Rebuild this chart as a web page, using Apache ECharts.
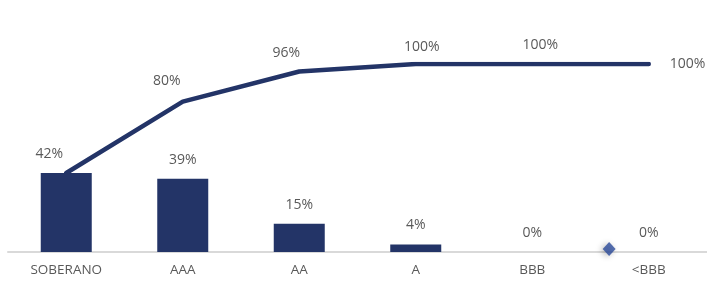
<!DOCTYPE html>
<html>
<head>
<meta charset="utf-8">
<script src="https://cdn.jsdelivr.net/npm/echarts@6/dist/echarts.min.js"></script>
<style>
  body { margin: 0; background: #fff; }
  #chart { width: 707px; height: 285px; }
</style>
</head>
<body>
<div id="chart"></div>
<script>
// categorias de rating
const categories = ['SOBERANO', 'AAA', 'AA', 'A', 'BBB', '<BBB'];
// participacion por rating (%)
const shares = [42, 39, 15, 4, 0, 0];
// acumulado (%)
const cumulative = [42, 80, 96, 100, 100, 100];
// marcador suelto cerca del eje (posicion en categorias, valor)
const strayMarker = [[4.66, 1.6]];

// desplazamientos de etiquetas, imitando el grafico original
const barLabelShift = [[-17, 0], [0, 0], [0, 0], [0, 0], [0, 0], [0, 0]];
const lineLabelShift = [null, [-16, -5], [-13, -3], [6, -1], [8, -3], 'right'];

const labelFont = { color: '#595959', fontSize: 14, fontFamily: 'Open Sans' };

const chart = echarts.init(document.getElementById('chart'));

chart.setOption({
  animation: false,
  grid: { left: 8, right: -2, top: 64, bottom: 33 },
  xAxis: [{
    type: 'category',
    data: categories,
    axisLine: { lineStyle: { color: '#d9d9d9', width: 2 } },
    axisTick: { show: false },
    axisLabel: Object.assign({ margin: 11 }, labelFont, { fontSize: 13.5 })
  }, {
    type: 'value',
    min: -0.5,
    max: 5.5,
    show: false
  }],
  yAxis: {
    type: 'value',
    min: 0,
    max: 100,
    show: false,
    splitLine: { show: false }
  },
  series: [{
    type: 'bar',
    barWidth: 51,
    itemStyle: { color: '#233467' },
    data: shares.map((v, i) => ({
      value: v,
      label: { offset: barLabelShift[i] }
    })),
    label: Object.assign({
      show: true,
      position: 'top',
      distance: 12,
      formatter: '{c}%'
    }, labelFont),
    z: 2
  }, {
    type: 'line',
    data: cumulative.map((v, i) => {
      const s = lineLabelShift[i];
      if (s === null) return { value: v, label: { show: false } };
      if (s === 'right') return { value: v, label: { position: 'right', distance: 20 } };
      return { value: v, label: { offset: s } };
    }),
    symbol: 'circle',
    symbolSize: 2,
    showSymbol: true,
    itemStyle: { color: '#233467', borderWidth: 0 },
    lineStyle: { color: '#233467', width: 4.5, cap: 'round', join: 'round' },
    label: Object.assign({
      show: true,
      position: 'top',
      distance: 8,
      formatter: '{c}%'
    }, labelFont),
    z: 3
  }, {
    type: 'scatter',
    xAxisIndex: 1,
    data: strayMarker,
    symbol: 'diamond',
    symbolSize: [13, 14],
    itemStyle: {
      color: '#2a4a9a',
      shadowBlur: 6,
      shadowColor: 'rgba(0,0,0,0.35)',
      shadowOffsetX: -2,
      shadowOffsetY: 1
    },
    z: 4
  }]
});
</script>
</body>
</html>
